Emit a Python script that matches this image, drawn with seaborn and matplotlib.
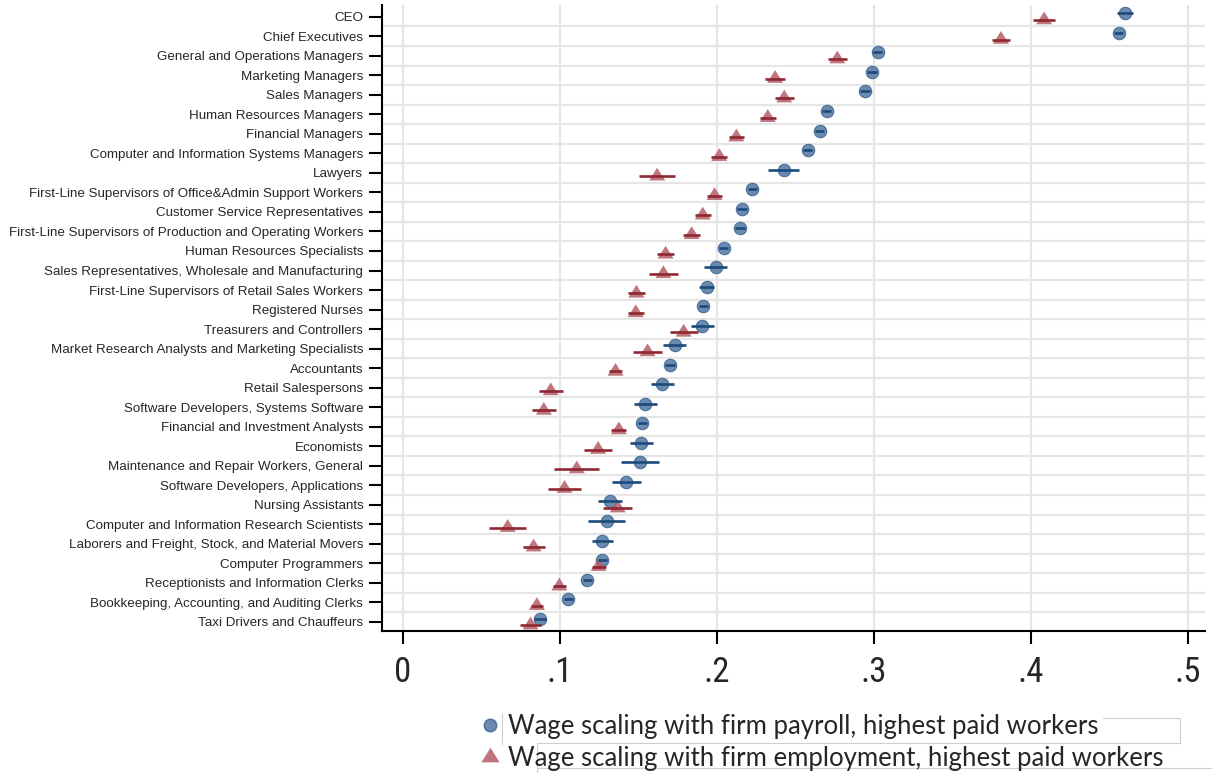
import numpy as np
import pandas as pd
import matplotlib
matplotlib.use("Agg")
import matplotlib.pyplot as plt
from matplotlib.path import Path
from matplotlib.lines import Line2D
import seaborn as sns

occupations = [
    "CEO",
    "Chief Executives",
    "General and Operations Managers",
    "Marketing Managers",
    "Sales Managers",
    "Human Resources Managers",
    "Financial Managers",
    "Computer and Information Systems Managers",
    "Lawyers",
    "First-Line Supervisors of Office&Admin Support Workers",
    "Customer Service Representatives",
    "First-Line Supervisors of Production and Operating Workers",
    "Human Resources Specialists",
    "Sales Representatives, Wholesale and Manufacturing",
    "First-Line Supervisors of Retail Sales Workers",
    "Registered Nurses",
    "Treasurers and Controllers",
    "Market Research Analysts and Marketing Specialists",
    "Accountants",
    "Retail Salespersons",
    "Software Developers, Systems Software",
    "Financial and Investment Analysts",
    "Economists",
    "Maintenance and Repair Workers, General",
    "Software Developers, Applications",
    "Nursing Assistants",
    "Computer and Information Research Scientists",
    "Laborers and Freight, Stock, and Material Movers",
    "Computer Programmers",
    "Receptionists and Information Clerks",
    "Bookkeeping, Accounting, and Auditing Clerks",
    "Taxi Drivers and Chauffeurs",
]

# Elasticity estimates and half-widths of the confidence intervals
payroll_coef = [0.460, 0.456, 0.3025, 0.2987, 0.2943, 0.270, 0.2655, 0.2578,
                0.2425, 0.2225, 0.216, 0.2147, 0.2042, 0.1991, 0.1934, 0.1913,
                0.1906, 0.1731, 0.170, 0.1652, 0.1544, 0.1524, 0.1517, 0.151,
                0.1422, 0.132, 0.1297, 0.127, 0.127, 0.1175, 0.1053, 0.0873]
payroll_ci = [0.005, 0.003, 0.003, 0.003, 0.003, 0.003, 0.003, 0.003,
              0.0097, 0.003, 0.003, 0.003, 0.003, 0.0076, 0.0045, 0.003,
              0.0073, 0.0073, 0.003, 0.0073, 0.0075, 0.003, 0.0073, 0.012,
              0.0092, 0.0076, 0.0117, 0.0068, 0.003, 0.003, 0.003, 0.004]
employ_coef = [0.4085, 0.381, 0.2767, 0.2371, 0.2429, 0.2324, 0.2124, 0.2015,
               0.1619, 0.1985, 0.191, 0.1839, 0.1673, 0.1659, 0.1487, 0.1483,
               0.1788, 0.1558, 0.1354, 0.0941, 0.0897, 0.1375, 0.1243, 0.1107,
               0.1029, 0.1368, 0.0667, 0.0832, 0.1246, 0.0996, 0.0853, 0.0812]
employ_ci = [0.007, 0.006, 0.006, 0.0065, 0.006, 0.005, 0.005, 0.005,
             0.0113, 0.005, 0.005, 0.0054, 0.0054, 0.009, 0.0056, 0.005,
             0.009, 0.009, 0.004, 0.0076, 0.0076, 0.0047, 0.0087, 0.0144,
             0.0103, 0.0092, 0.0117, 0.007, 0.0045, 0.004, 0.004, 0.0068]

x_ticks = [0, 0.1, 0.2, 0.3, 0.4, 0.5]
x_ticklabels = ["0", ".1", ".2", ".3", ".4", ".5"]
series_labels = ["Wage scaling with firm payroll, highest paid workers",
                 "Wage scaling with firm employment, highest paid workers"]

sns.set_style("white")
plt.rcParams["font.family"] = ["Liberation Sans", "DejaVu Sans"]

rows = np.arange(len(occupations))
shift = 0.17
df = pd.DataFrame({
    "row": rows,
    "pay": payroll_coef, "pay_ci": payroll_ci,
    "emp": employ_coef, "emp_ci": employ_ci,
})
df["y_pay"] = df["row"] - shift
df["y_emp"] = df["row"] + shift

# triangle centred on its centroid
tri = Path([(0, 1), (-0.94, -0.5), (0.94, -0.5), (0, 1)],
           [Path.MOVETO, Path.LINETO, Path.LINETO, Path.CLOSEPOLY])

blue_face, blue_edge, blue_bar = "#5a7fa6", "#3d6892", "#1d4a7b"
red_face, red_bar = "#b45e66", "#8e2833"

fig = plt.figure(figsize=(12.12, 7.74), dpi=100)
ax = fig.add_axes([382 / 1212, 1 - 630.7 / 774, (1205 - 382) / 1212, (630.7 - 5) / 774])

# grid: vertical at ticks, horizontal between categories
for xv in x_ticks:
    ax.axvline(xv, color="#e6e6e6", lw=1.6, zorder=0)
for yv in rows[:-1] + 0.5:
    ax.axhline(yv, color="#e6e6e6", lw=1.6, zorder=0)

sns.scatterplot(data=df, x="pay", y="y_pay", marker="o", s=80,
                color=blue_face, edgecolor=blue_edge, linewidth=0.8,
                alpha=0.9, ax=ax, zorder=3)
sns.scatterplot(data=df, x="emp", y="y_emp", marker=tri, s=150,
                color=red_face, edgecolor="none", linewidth=0,
                alpha=0.85, ax=ax, zorder=3)

ax.errorbar(df["pay"], df["y_pay"], xerr=df["pay_ci"], fmt="none",
            ecolor=blue_bar, elinewidth=1.9, capsize=0, zorder=4)
ax.errorbar(df["emp"], df["y_emp"], xerr=df["emp_ci"], fmt="none",
            ecolor=red_bar, elinewidth=1.9, capsize=0, zorder=4)

ax.set_xlim(-0.0134, 0.511)
ax.set_ylim(len(occupations) - 0.55, -0.6)
ax.set_yticks(rows)
ax.set_yticklabels(occupations, fontsize=9.6)
ax.set_xticks(x_ticks)
ax.set_xticklabels(x_ticklabels, fontsize=25, fontstretch="condensed",
                   family=["Liberation Sans Narrow", "Roboto Condensed",
                           "DejaVu Sans"])
ax.set_xlabel("")
ax.set_ylabel("")

for side in ["top", "right"]:
    ax.spines[side].set_visible(False)
for side in ["left", "bottom"]:
    ax.spines[side].set_color("black")
    ax.spines[side].set_linewidth(1.5)
ax.tick_params(axis="y", length=9.5, width=1.5, color="black", pad=4, left=True)
ax.tick_params(axis="x", length=9.5, width=1.5, color="black", pad=9, bottom=True)

# legend below the plot
handles = [
    Line2D([], [], marker="o", linestyle="none", markersize=9,
           markerfacecolor=blue_face, markeredgecolor=blue_edge, alpha=0.9),
    Line2D([], [], marker=tri, linestyle="none", markersize=14,
           markerfacecolor=red_face, markeredgecolor="none", alpha=0.85),
]
fig.legend(handles, series_labels, loc="upper left",
           bbox_to_anchor=(480 / 1212, 1 - 714 / 774),
           frameon=False, handlelength=0.8, handletextpad=0.3,
           labelspacing=0.28, borderpad=0, borderaxespad=0,
           prop={"family": "Lato", "size": 18.5})

# thin outline strokes around the legend text
grey = "#cfcfcf"
def stroke(x0, y0, x1, y1):
    fig.add_artist(Line2D([x0 / 1212, x1 / 1212], [1 - y0 / 774, 1 - y1 / 774],
                          color=grey, lw=0.8, zorder=-1))
stroke(502, 713, 502, 744)
stroke(537, 743, 1180, 743)
stroke(537, 743, 537, 772)
stroke(1103, 718, 1180, 718)
stroke(1180, 718, 1180, 743)
stroke(537, 768, 1212, 768)

fig.savefig("out.png", dpi=100)
